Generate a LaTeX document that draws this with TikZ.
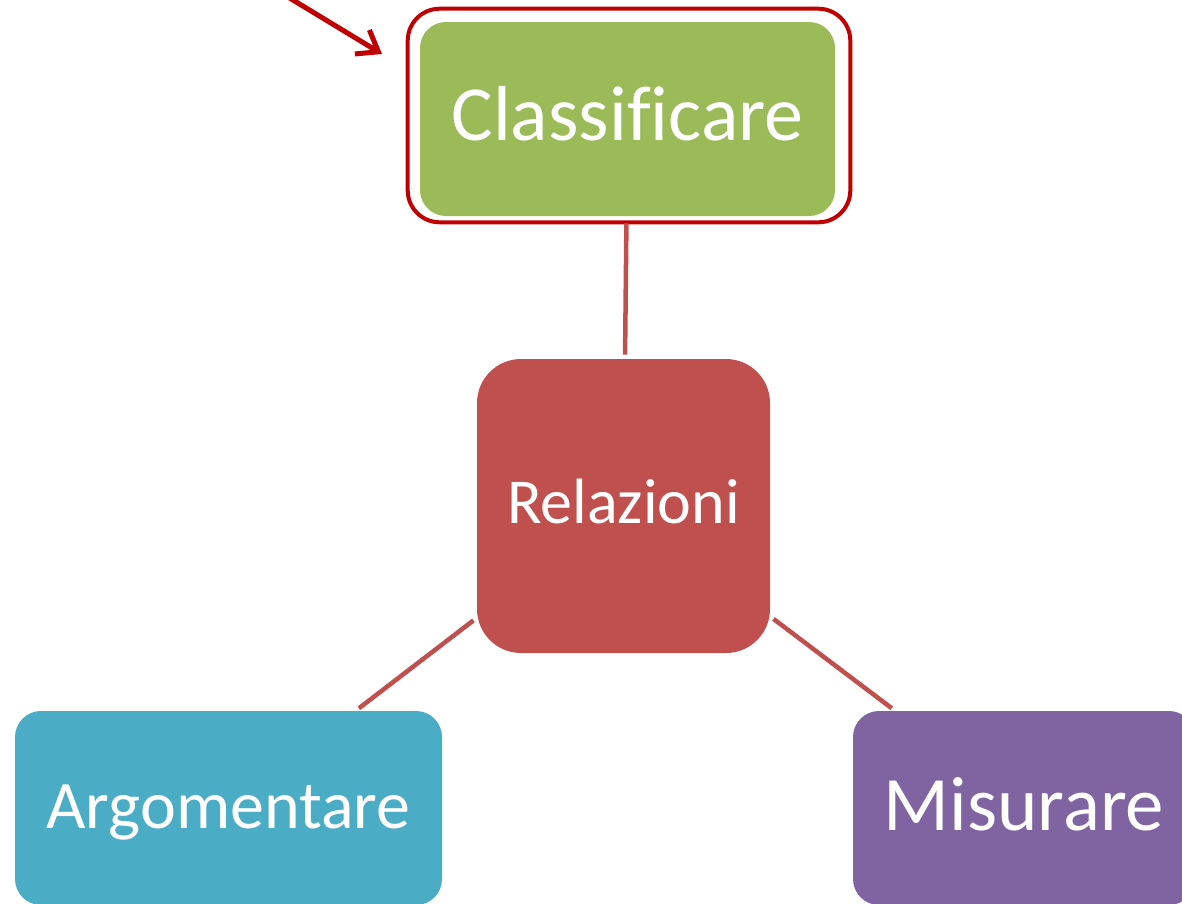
\documentclass[tikz,border=0pt]{standalone}
\usepackage{fontspec}
\setmainfont{Carlito}[Ligatures=NoCommon]
\usetikzlibrary{arrows.meta}
\definecolor{cgreen}{HTML}{9BBB59}
\definecolor{cred}{HTML}{C0504D}
\definecolor{cblue}{HTML}{4BACC6}
\definecolor{cpurple}{HTML}{8064A2}
\definecolor{framered}{HTML}{C00000}
\begin{document}
\begin{tikzpicture}[x=1pt,y=-1pt,semithick]
\tikzset{ every node/.style={rectangle, rounded corners=26pt, text=white, inner sep=0pt, text depth=0pt}}
\tikzstyle{link}=[draw=cred, line width=4.5pt, shorten <=4pt, shorten >=4pt]
\tikzstyle{frame}=[draw=framered, line width=4pt, rounded corners=32pt]
\tikzstyle{pointer}=[draw=framered, line width=5pt, -{Straight Barb[length=19pt,width=28pt]}]
\useasboundingbox (0,0) rectangle (1182,903);
\clip (0,0) rectangle (1182,903);
% boxes
\node[fill=cgreen, minimum width=415pt, minimum height=194pt, text height=42pt, font=\fontsize{78}{90}\selectfont] (cls) at (627.5,119) {Classificare};
\node[fill=cred, minimum width=293pt, minimum height=294pt, rounded corners=44pt, text height=34pt, font=\fontsize{64}{76}\selectfont] (rel) at (623.5,506) {Relazioni};
\node[fill=cblue, minimum width=427pt, minimum height=194pt, text height=40pt, font=\fontsize{68}{80}\selectfont] (arg) at (228.5,808) {Argomentare};
\node[fill=cpurple, minimum width=342pt, minimum height=194pt, text height=44pt, font=\fontsize{77}{90}\selectfont] (mis) at (1024,808) {Misurare};
% frame and pointer
\draw[frame] ([shift={(-12,-13)}]cls.north west) rectangle ([shift={(15,6)}]cls.south east);
\coordinate (tail) at (288,-3);
\coordinate (tip) at (382,54);
\draw[pointer] (tail) -- (tip);
% links
\draw[link, shorten <=7pt] (cls) -- (rel);
\draw[link] (rel) -- (arg);
\draw[link] (rel) -- (mis);
\end{tikzpicture}
\end{document}
